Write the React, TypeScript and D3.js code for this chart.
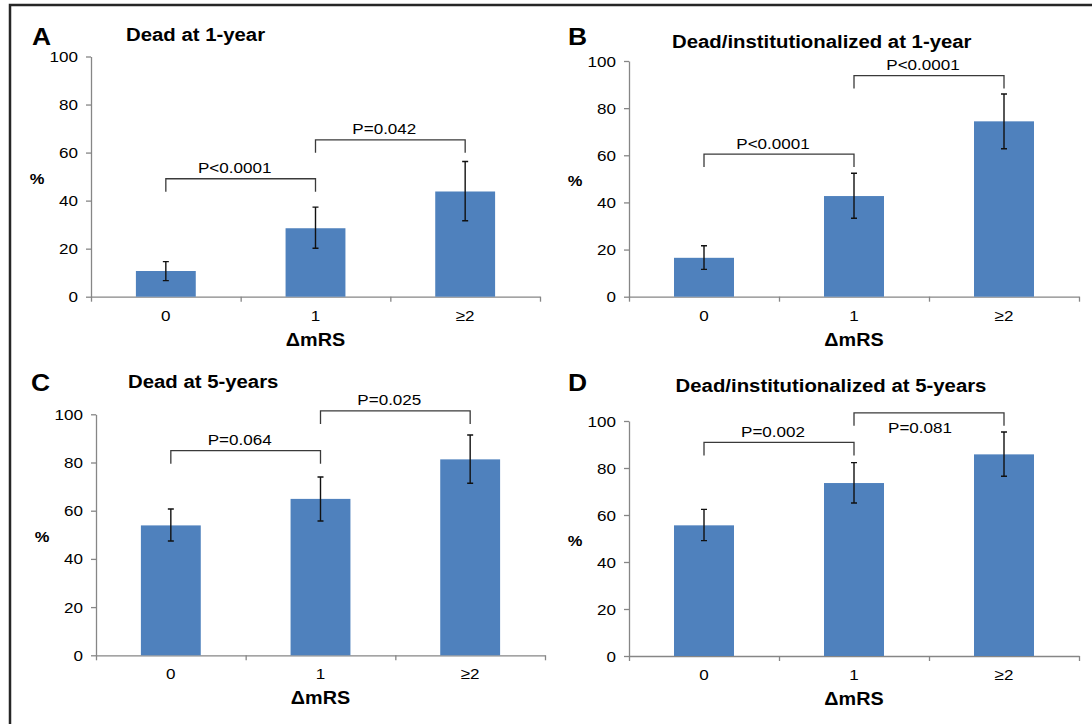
import React, { useEffect, useRef } from "react";
import * as d3 from "d3";

// categories and axis text
const categories = ["0", "1", "≥2"];
const yTicks = [0, 20, 40, 60, 80, 100];
const xAxisTitle = "ΔmRS";
const yAxisTitle = "%";

const panelLetters = ["A", "B", "C", "D"];
const panelTitles = [
    "Dead at 1-year",
    "Dead/institutionalized at 1-year",
    "Dead at 5-years",
    "Dead/institutionalized at 5-years",
];

// A: dead at 1 year
const deadAt1Year = [10.7, 28.5, 43.8];
const deadAt1YearLow = [6.7, 20.2, 31.6];
const deadAt1YearHigh = [14.6, 37.3, 56.3];
const deadAt1YearP = ["P<0.0001", "P=0.042"];
const deadAt1YearPLevel = [49.1, 65.3];

// B: dead / institutionalized at 1 year
const deadInst1Year = [16.5, 42.7, 74.4];
const deadInst1YearLow = [11.6, 33.3, 62.8];
const deadInst1YearHigh = [21.6, 52.4, 86.0];
const deadInst1YearP = ["P<0.0001", "P<0.0001"];
const deadInst1YearPLevel = [60.5, 93.8];

// C: dead at 5 years
const deadAt5Years = [53.9, 64.9, 81.3];
const deadAt5YearsLow = [47.4, 55.7, 71.4];
const deadAt5YearsHigh = [60.7, 74.0, 91.4];
const deadAt5YearsP = ["P=0.064", "P=0.025"];
const deadAt5YearsPLevel = [84.9, 101.4];

// D: dead / institutionalized at 5 years
const deadInst5Years = [55.6, 73.6, 85.8];
const deadInst5YearsLow = [49.1, 65.1, 76.5];
const deadInst5YearsHigh = [62.4, 82.3, 95.3];
const deadInst5YearsP = ["P=0.002", "P=0.081"];
const deadInst5YearsPLevel = [90.9, 103.5];

const panelData = [
    { values: deadAt1Year, low: deadAt1YearLow, high: deadAt1YearHigh, p: deadAt1YearP, pLevel: deadAt1YearPLevel },
    { values: deadInst1Year, low: deadInst1YearLow, high: deadInst1YearHigh, p: deadInst1YearP, pLevel: deadInst1YearPLevel },
    { values: deadAt5Years, low: deadAt5YearsLow, high: deadAt5YearsHigh, p: deadAt5YearsP, pLevel: deadAt5YearsPLevel },
    { values: deadInst5Years, low: deadInst5YearsLow, high: deadInst5YearsHigh, p: deadInst5YearsP, pLevel: deadInst5YearsPLevel },
];

// where each panel sits on the page
const layouts = [
    { x0: 91, x1: 540, yTop: 56.5, yBot: 296.7, titleX: 126, titleY: 40.7, letterX: 32, letterY: 45, below: [false, false] },
    { x0: 629, x1: 1079, yTop: 61, yBot: 296.7, titleX: 672, titleY: 48.3, letterX: 568, letterY: 45, below: [false, false] },
    { x0: 96, x1: 545, yTop: 414.3, yBot: 655.3, titleX: 128, titleY: 387.7, letterX: 31, letterY: 391, below: [false, false] },
    { x0: 629, x1: 1079, yTop: 421, yBot: 656, titleX: 675.6, titleY: 392, letterX: 568, letterY: 391, below: [false, true] },
];

const W = 1092;
const H = 724;
const SX = 1.1; // the source text is a little wider than plain Arial
const FONT = "'Liberation Sans', Arial, sans-serif";
const BAR = "#4F81BD";
const AXIS = "#868686";

const App = () => {
    const ref = useRef<SVGSVGElement>(null);

    useEffect(() => {
        const svg = d3.select(ref.current);
        svg.selectAll("*").remove();

        svg.append("rect").attr("width", W).attr("height", H).attr("fill", "#fff");

        // frame (top and left edges only)
        svg.append("path")
            .attr("d", `M10,${H} V5 H${W}`)
            .attr("fill", "none")
            .attr("stroke", "#262626")
            .attr("stroke-width", 2.5);

        const addText = (g, str, x, y, size, weight, anchor) =>
            g.append("text")
                .attr("transform", `translate(${x},${y}) scale(${SX},1)`)
                .attr("text-anchor", anchor)
                .attr("font-family", FONT)
                .attr("font-size", size)
                .attr("font-weight", weight)
                .attr("fill", "#000")
                .text(str);

        panelData.forEach((d, i) => {
            const L = layouts[i];
            const g = svg.append("g");

            const x = d3.scaleBand()
                .domain(categories)
                .range([L.x0, L.x1])
                .paddingInner(0.6)
                .paddingOuter(0.3);
            const y = d3.scaleLinear().domain([0, 100]).range([L.yBot, L.yTop]);
            const xIdx = d3.scaleLinear().domain([0, categories.length]).range([L.x0, L.x1]);
            const cx = (k) => x(categories[k]) + x.bandwidth() / 2;

            // y axis
            const yAxis = g.append("g")
                .attr("transform", `translate(${L.x0},0)`)
                .call(d3.axisLeft(y).tickValues(yTicks).tickSize(5).tickSizeOuter(0).tickFormat(() => ""));
            yAxis.select(".domain").attr("stroke", AXIS).attr("stroke-width", 1.3);
            yAxis.selectAll(".tick line").attr("stroke", AXIS).attr("stroke-width", 1.3);
            yTicks.forEach(t => addText(g, String(t), L.x0 - 13, y(t) + 5.5, 15.5, "normal", "end"));

            // x axis: boundary ticks, labels at band centres
            const xAxis = g.append("g")
                .attr("transform", `translate(0,${L.yBot})`)
                .call(d3.axisBottom(xIdx).tickValues(d3.range(categories.length + 1)).tickSize(5).tickSizeOuter(0).tickFormat(() => ""));
            xAxis.select(".domain").attr("stroke", AXIS).attr("stroke-width", 1.3);
            xAxis.selectAll(".tick line").attr("stroke", AXIS).attr("stroke-width", 1.3);

            categories.forEach((c, k) => addText(g, c, cx(k), L.yBot + 24, 15.5, "normal", "middle"));

            // bars
            g.selectAll("rect.bar")
                .data(d.values)
                .enter()
                .append("rect")
                .attr("class", "bar")
                .attr("x", (v, k) => x(categories[k]))
                .attr("width", x.bandwidth())
                .attr("y", v => y(v))
                .attr("height", v => L.yBot - y(v))
                .attr("fill", BAR);

            // error bars
            d.values.forEach((v, k) => {
                const px = cx(k);
                g.append("path")
                    .attr("d", `M${px},${y(d.low[k])} V${y(d.high[k])} M${px - 3},${y(d.high[k])} H${px + 3} M${px - 3},${y(d.low[k])} H${px + 3}`)
                    .attr("stroke", "#111")
                    .attr("stroke-width", 1.4)
                    .attr("fill", "none");
            });

            // significance brackets
            d.p.forEach((label, k) => {
                const a = cx(k);
                const b = cx(k + 1);
                const ly = y(d.pLevel[k]);
                g.append("path")
                    .attr("d", `M${a},${ly + 13} V${ly} H${b} V${ly + 13}`)
                    .attr("stroke", "#3a3a3a")
                    .attr("stroke-width", 1.3)
                    .attr("fill", "none");
                const ty = L.below[k] ? ly + 20 : ly - 5.5;
                const tx = (a + b) / 2 - (L.below[k] ? 9 : 6);
                addText(g, label, tx, ty, 15.5, "normal", "middle");
            });

            // titles and labels
            addText(g, panelLetters[i], L.letterX, L.letterY, 24, "bold", "start");
            addText(g, panelTitles[i], L.titleX, L.titleY, 18.5, "bold", "start");
            addText(g, yAxisTitle, L.x0 - 54, (L.yTop + L.yBot) / 2 + 7, 15, "bold", "middle");
            addText(g, xAxisTitle, (L.x0 + L.x1) / 2, L.yBot + 49, 18, "bold", "middle");
        });
    }, []);

    return (
        <svg
            ref={ref}
            width={W}
            height={H}
            style={{ position: "absolute", left: 0, top: 0, display: "block" }}
        />
    );
};

export default App;
